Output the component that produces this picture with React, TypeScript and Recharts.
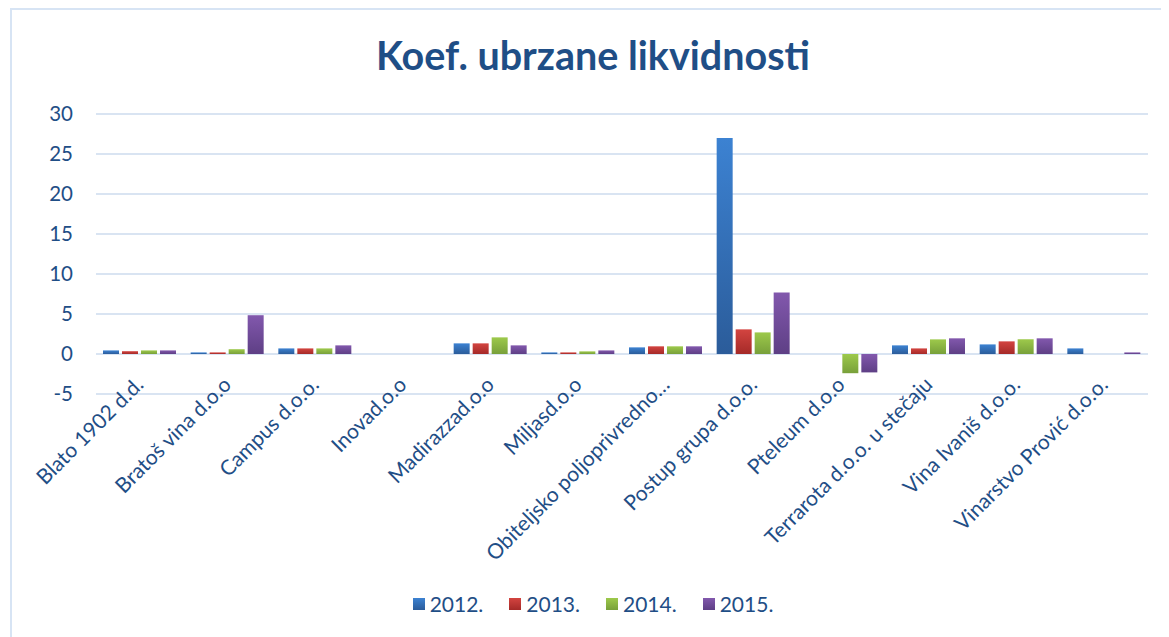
import { Bar, BarChart, CartesianGrid, Legend, XAxis, YAxis } from "recharts";

const companies = [
  'Blato 1902 d.d.',
  'Bratoš vina d.o.o',
  'Campus d.o.o.',
  'Inovad.o.o',
  'Madirazzad.o.o',
  'Miljasd.o.o',
  'Obiteljsko poljoprivredno…',
  'Postup grupa d.o.o.',
  'Pteleum d.o.o',
  'Terrarota d.o.o. u stečaju',
  'Vina Ivaniš d.o.o.',
  'Vinarstvo Prović d.o.o.',
];

const y2012 = [0.45, 0.2, 0.7, 0, 1.33, 0.2, 0.83, 27, 0, 1.08, 1.2, 0.7];
const y2013 = [0.35, 0.2, 0.7, 0, 1.33, 0.2, 0.96, 3.08, 0, 0.7, 1.58, 0];
const y2014 = [0.45, 0.6, 0.7, 0, 2.08, 0.33, 0.96, 2.7, -2.4, 1.83, 1.83, 0];
const y2015 = [0.45, 4.85, 1.08, 0, 1.08, 0.45, 0.96, 7.7, -2.3, 1.96, 1.96, 0.2];

const yTicks = [-5, 0, 5, 10, 15, 20, 25, 30];

const series = [
  { key: 'y2012', name: '2012.', top: '#3C82D2', bottom: '#2B5C9A' },
  { key: 'y2013', name: '2013.', top: '#D34440', bottom: '#A52A28' },
  { key: 'y2014', name: '2014.', top: '#9DC94B', bottom: '#78A03A' },
  { key: 'y2015', name: '2015.', top: '#8258AD', bottom: '#5E3F85' },
];

const data = companies.map((name, i) => ({
  name,
  y2012: y2012[i],
  y2013: y2013[i],
  y2014: y2014[i],
  y2015: y2015[i],
}));

const textColor = '#1F4E86';
const font = 'Lato, "Liberation Sans", sans-serif';

const CategoryTick = ({ x, y, payload }: any) => {
  const tx = x + 5;
  const ty = y - 10;
  return (
    <text
      x={tx}
      y={ty}
      transform={`rotate(-45, ${tx}, ${ty})`}
      textAnchor="end"
      fill={textColor}
      fontSize={21}
      fontFamily={font}
    >
      {payload.value}
    </text>
  );
};

const LegendContent = () => (
  <div style={{ display: 'flex', justifyContent: 'center', gap: 26, fontFamily: font, fontSize: 21, color: textColor }}>
    {series.map((s) => (
      <div key={s.key} style={{ display: 'flex', alignItems: 'center' }}>
        <span style={{ display: 'inline-block', width: 12, height: 12, marginRight: 5, background: `linear-gradient(${s.top}, ${s.bottom})` }} />
        {s.name}
      </div>
    ))}
  </div>
);

export default function App() {
  return (
    <div style={{ position: 'relative', width: 1161, height: 629, fontFamily: font }}>
      <div
        style={{
          position: 'absolute',
          left: 2,
          top: 0,
          width: 1159,
          height: 629,
          borderLeft: '2px solid #D7E4F4',
          borderTop: '2px solid #D7E4F4',
          boxSizing: 'border-box',
          pointerEvents: 'none',
        }}
      />
      <div
        style={{
          position: 'absolute',
          left: 0,
          top: 23,
          width: 1170,
          textAlign: 'center',
          fontSize: 39.5,
          fontWeight: 'bold',
          color: textColor,
        }}
      >
        Koef. ubrzane likvidnosti
      </div>
      <BarChart
        width={1161}
        height={629}
        data={data}
        margin={{ top: 106, right: 21, bottom: 0, left: 0 }}
        barSize={16}
        barGap={3}
      >
        <defs>
          {series.map((s) => (
            <linearGradient key={s.key} id={`g-${s.key}`} x1="0" y1="0" x2="0" y2="1">
              <stop offset="0%" stopColor={s.top} />
              <stop offset="100%" stopColor={s.bottom} />
            </linearGradient>
          ))}
        </defs>
        <CartesianGrid vertical={false} stroke="#D9E4F2" strokeWidth={2} />
        <XAxis
          dataKey="name"
          interval={0}
          height={243}
          axisLine={false}
          tickLine={false}
          tickSize={0}
          tick={<CategoryTick />}
        />
        <YAxis
          width={88}
          domain={[-5, 30]}
          ticks={yTicks}
          axisLine={false}
          tickLine={false}
          tickSize={0}
          tickMargin={23}
          tick={{ fill: textColor, fontSize: 20.5, fontFamily: font }}
        />
        <Legend
          layout="horizontal"
          verticalAlign="middle"
          align="center"
          wrapperStyle={{ top: 583, left: 0, width: 1170 }}
          content={<LegendContent />}
        />
        {series.map((s) => (
          <Bar key={s.key} dataKey={s.key} name={s.name} fill={`url(#g-${s.key})`} isAnimationActive={false} />
        ))}
      </BarChart>
    </div>
  );
}
